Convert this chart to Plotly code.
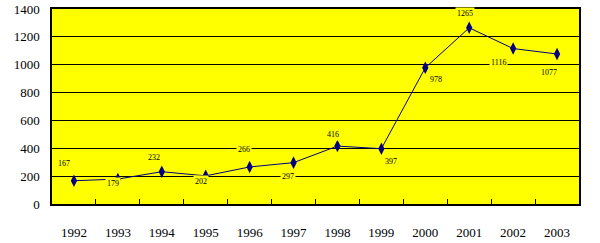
import plotly.graph_objects as go

years = ["1992", "1993", "1994", "1995", "1996", "1997", "1998", "1999", "2000", "2001", "2002", "2003"]
values = [167, 179, 232, 202, 266, 297, 416, 397, 978, 1265, 1116, 1077]
y_ticks = [0, 200, 400, 600, 800, 1000, 1200, 1400]

# label offsets in pixels (style only)
x_shifts = [-10, -5, -8, -5, -6, -6, -4, 10, 11, -4, -15, -8]
y_shifts = [17, -4, 14, -6, 17, -14, 12, -13, -12, 14, -14, -19]

idx = list(range(len(years)))
boundaries = [i + 0.5 for i in idx[:-1]]

navy = "#000080"
fig = go.Figure()
fig.add_trace(go.Scatter(
    x=idx, y=values, mode="lines+markers",
    line=dict(color=navy, width=1),
    marker=dict(symbol="diamond-tall", size=9, color=navy),
    hoverinfo="skip",
))

for i, v, xs, ys in zip(idx, values, x_shifts, y_shifts):
    fig.add_annotation(
        x=i, y=v, text=str(v), showarrow=False,
        xshift=xs, yshift=ys,
        font=dict(family="Liberation Serif", size=8, color="black"),
        bgcolor="#FFFF00", borderpad=1,
    )

fig.update_layout(
    width=600, height=243,
    margin=dict(l=52, r=21, t=9, b=39, autoexpand=False),
    paper_bgcolor="white", plot_bgcolor="#FFFF00",
    showlegend=False,
    font=dict(family="Liberation Serif", size=12, color="black"),
)
fig.update_xaxes(
    range=[-0.5, len(years) - 0.5], tickvals=idx, ticktext=years, ticks="",
    minor=dict(tickvals=boundaries, ticks="inside", ticklen=5, tickcolor="black", showgrid=False),
    showline=True, linecolor="black", linewidth=1.5, automargin=False,
    mirror=True, showgrid=False, zeroline=False, ticklabelstandoff=16,
    tickangle=0,
    tickfont=dict(family="Liberation Serif", size=13),
)
fig.update_yaxes(
    range=[0, 1400], tickvals=y_ticks, showgrid=True, gridcolor="black",
    gridwidth=1, showline=True, linecolor="black", linewidth=1.5, mirror=True,
    zeroline=False, ticks="", ticklabelstandoff=8, automargin=False,
    tickfont=dict(family="Liberation Serif", size=13),
)

fig.write_html("out.html")
